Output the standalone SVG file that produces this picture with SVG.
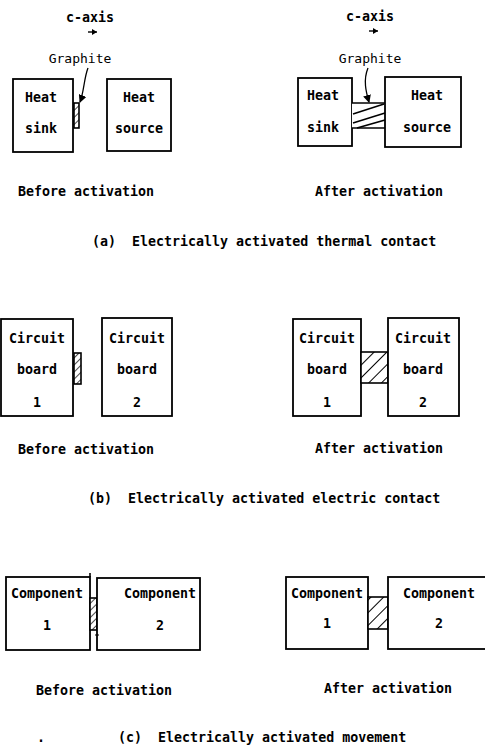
<svg xmlns="http://www.w3.org/2000/svg" width="485" height="745" viewBox="0 0 485 745">
<style>
.t{font-family:"DejaVu Sans Mono","Liberation Mono",monospace;font-size:13.3px;font-weight:bold;fill:#000}
.g{font-family:"DejaVu Sans Mono","Liberation Mono",monospace;font-size:13px;font-weight:normal;fill:#000}
.m{text-anchor:middle}
.box{fill:#fff;stroke:#000;stroke-width:1.8}
.hs{fill:url(#hatch);stroke:#000;stroke-width:1.6}
.hs2{fill:url(#hatch2);stroke:#000;stroke-width:1.6}
.ln{stroke:#000;stroke-width:1.6;fill:none}
</style>
<defs>
<pattern id="hatch" patternUnits="userSpaceOnUse" width="9" height="9" patternTransform="rotate(45)">
<rect width="9" height="9" fill="#fff"/>
<line x1="0" y1="0" x2="0" y2="9" stroke="#000" stroke-width="2"/>
</pattern>
<pattern id="hatch2" patternUnits="userSpaceOnUse" width="5" height="5" patternTransform="rotate(45)">
<rect width="5" height="5" fill="#fff"/>
<line x1="0" y1="0" x2="0" y2="5" stroke="#000" stroke-width="1.4"/>
</pattern>
<marker id="ah" markerWidth="8" markerHeight="8" refX="7" refY="4" orient="auto" markerUnits="userSpaceOnUse">
<path d="M0,0 L8,4 L0,8 Z" fill="#000"/>
</marker>
<marker id="sa" markerWidth="5" markerHeight="6" refX="5" refY="3" orient="auto" markerUnits="userSpaceOnUse">
<path d="M0,0 L5,3 L0,6 Z" fill="#000"/>
</marker>
</defs>

<!-- Panel (a) -->
<text class="t m" x="90" y="22">c-axis</text>
<text class="t m" x="370" y="21">c-axis</text>
<text class="g m" x="80" y="63">Graphite</text>
<text class="g m" x="370" y="63">Graphite</text>

<g id="a-before-sink">
<rect class="box" x="13" y="79" width="60" height="73"/>
<text class="t m" x="41" y="102">Heat</text>
<text class="t m" x="41" y="133">sink</text>
</g>
<g id="a-before-graphite">
<rect class="hs2" x="74" y="103" width="5" height="25"/>
</g>
<g id="a-before-source">
<rect class="box" x="107" y="79" width="64" height="72"/>
<text class="t m" x="139" y="102">Heat</text>
<text class="t m" x="139" y="133">source</text>
</g>

<g id="a-after-sink">
<rect class="box" x="298" y="78" width="54" height="68"/>
<text class="t m" x="323" y="100">Heat</text>
<text class="t m" x="323" y="132">sink</text>
</g>
<g id="a-after-graphite">
<rect x="352" y="103" width="33" height="25" fill="#fff" stroke="none"/>
<line class="ln" x1="352" y1="103" x2="385" y2="103"/>
<line class="ln" x1="352" y1="128" x2="385" y2="128"/>
<line class="ln" x1="353" y1="114" x2="384" y2="104"/>
<line class="ln" x1="353" y1="123" x2="385" y2="113"/>
<line class="ln" x1="357" y1="128" x2="385" y2="120"/>
</g>
<g id="a-after-source">
<rect class="box" x="385" y="77" width="76" height="70"/>
<text class="t m" x="427" y="100">Heat</text>
<text class="t m" x="427" y="132">source</text>
</g>

<text class="t m" x="86" y="196">Before activation</text>
<text class="t m" x="379" y="196">After activation</text>
<text class="t" x="92" y="246" xml:space="preserve">(a)  Electrically activated thermal contact</text>

<!-- Panel (b) -->
<g id="b-before-board1">
<rect class="box" x="1" y="319" width="72" height="97"/>
<text class="t m" x="37" y="343">Circuit</text>
<text class="t m" x="37" y="374">board</text>
<text class="t m" x="37" y="407">1</text>
</g>
<g id="b-before-contact">
<rect class="hs2" x="74" y="353" width="7" height="31"/>
</g>
<g id="b-before-board2">
<rect class="box" x="102" y="318" width="70" height="98"/>
<text class="t m" x="137" y="343">Circuit</text>
<text class="t m" x="137" y="374">board</text>
<text class="t m" x="137" y="407">2</text>
</g>

<g id="b-after-board1">
<rect class="box" x="293" y="319" width="68" height="97"/>
<text class="t m" x="327" y="343">Circuit</text>
<text class="t m" x="327" y="374">board</text>
<text class="t m" x="327" y="407">1</text>
</g>
<g id="b-after-contact">
<rect class="hs" x="361" y="352" width="27" height="31"/>
</g>
<g id="b-after-board2">
<rect class="box" x="388" y="318" width="71" height="98"/>
<text class="t m" x="423" y="343">Circuit</text>
<text class="t m" x="423" y="374">board</text>
<text class="t m" x="423" y="407">2</text>
</g>

<text class="t m" x="86" y="454">Before activation</text>
<text class="t m" x="379" y="453">After activation</text>
<text class="t" x="88" y="503" xml:space="preserve">(b)  Electrically activated electric contact</text>

<!-- Panel (c) -->
<g id="c-before-comp1">
<rect class="box" x="6" y="577" width="84" height="73"/>
<line class="ln" x1="90" y1="573" x2="90" y2="577"/>
<text class="t m" x="47" y="598">Component</text>
<text class="t m" x="47" y="630">1</text>
</g>
<g id="c-before-contact">
<rect class="hs2" x="90" y="598" width="7" height="32"/>
</g>
<g id="c-before-comp2">
<rect class="box" x="97" y="578" width="103" height="72"/>
<line class="ln" x1="95" y1="635" x2="99" y2="635" style="stroke-width:1"/>
<text class="t m" x="160" y="598">Component</text>
<text class="t m" x="160" y="630">2</text>
</g>

<g id="c-after-comp1">
<rect class="box" x="286" y="577" width="82" height="72"/>
<text class="t m" x="327" y="598">Component</text>
<text class="t m" x="327" y="628">1</text>
</g>
<g id="c-after-contact">
<rect class="hs" x="368" y="597" width="20" height="32"/>
</g>
<g id="c-after-comp2">
<rect class="box" x="388" y="577" width="102" height="72"/>
<text class="t m" x="439" y="598">Component</text>
<text class="t m" x="439" y="628">2</text>
</g>

<text class="t m" x="104" y="695">Before activation</text>
<text class="t m" x="388" y="693">After activation</text>
<text class="t" x="37" y="742">.</text>
<text class="t" x="118" y="742" xml:space="preserve">(c)  Electrically activated movement</text>

<g id="connectors">
<path class="ln" d="M88,68 C84,78 84,92 80,102" marker-end="url(#ah)" style="stroke-width:1.3"/>
<path class="ln" d="M368,68 C363,80 366,92 369,102" marker-end="url(#ah)" style="stroke-width:1.3"/>
<line class="ln" x1="88" y1="32" x2="97" y2="32" marker-end="url(#sa)" style="stroke-width:1.4"/>
<line class="ln" x1="369" y1="31" x2="378" y2="31" marker-end="url(#sa)" style="stroke-width:1.4"/>
</g>
</svg>
